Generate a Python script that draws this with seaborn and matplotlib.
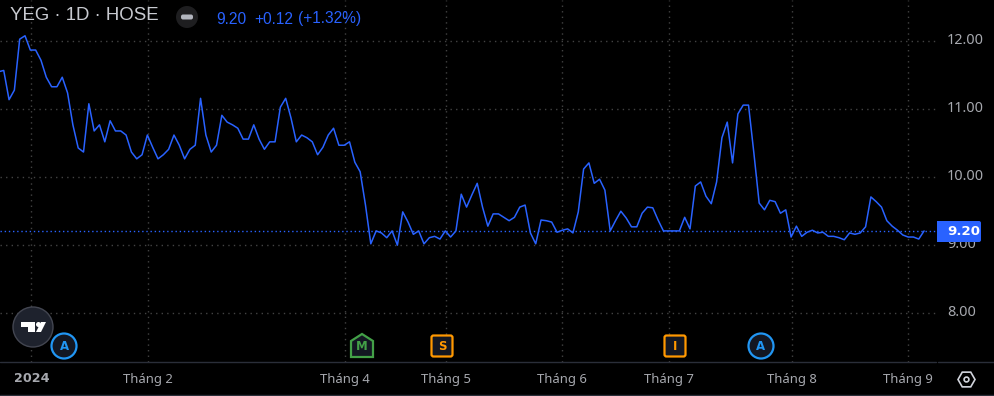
import numpy as np
import pandas as pd
import matplotlib
matplotlib.use("Agg")
import matplotlib.pyplot as plt
from matplotlib.patches import Circle, Polygon, FancyBboxPatch, Rectangle
import seaborn as sns

# daily closes
closes = [
    11.54, 11.56, 11.13, 11.27, 12.02, 12.07, 11.86, 11.86, 11.71, 11.46, 11.32, 11.32,
    11.46, 11.23, 10.76, 10.42, 10.36, 11.07, 10.67, 10.76, 10.51, 10.82, 10.67, 10.67,
    10.61, 10.36, 10.26, 10.32, 10.61, 10.43, 10.26, 10.32, 10.40, 10.61, 10.46, 10.26,
    10.40, 10.46, 11.15, 10.61, 10.36, 10.46, 10.90, 10.80, 10.76, 10.71, 10.55, 10.55,
    10.76, 10.55, 10.40, 10.51, 10.51, 11.02, 11.15, 10.86, 10.51, 10.61, 10.57, 10.51,
    10.32, 10.43, 10.61, 10.71, 10.46, 10.46, 10.51, 10.21, 10.07, 9.58, 9.01, 9.20,
    9.17, 9.10, 9.20, 8.99, 9.48, 9.33, 9.15, 9.20, 9.01, 9.10, 9.12, 9.08,
    9.20, 9.11, 9.20, 9.74, 9.55, 9.73, 9.90, 9.55, 9.27, 9.45, 9.45,
    9.40, 9.35, 9.40, 9.55, 9.58, 9.17, 9.01, 9.36, 9.35, 9.33, 9.18, 9.21, 9.23,
    9.17, 9.48, 10.11, 10.20, 9.90, 9.96, 9.80, 9.20, 9.35, 9.49, 9.39, 9.26, 9.26,
    9.46, 9.55, 9.54, 9.36, 9.20, 9.20, 9.20, 9.20, 9.40, 9.23, 9.86, 9.92, 9.71,
    9.60, 9.92, 10.57, 10.80, 10.20, 10.92, 11.05, 11.05, 10.35, 9.61, 9.51, 9.65, 9.63,
    9.46, 9.51, 9.11, 9.27, 9.12, 9.18, 9.21, 9.17, 9.18, 9.12, 9.12, 9.10, 9.07,
    9.17, 9.15, 9.17, 9.26, 9.70, 9.63, 9.55, 9.35, 9.27, 9.21, 9.14, 9.11, 9.11, 9.08, 9.20,
]
price_ticks = [8, 9, 10, 11, 12]
month_labels = ["2024", "Tháng 2", "Tháng 4", "Tháng 5", "Tháng 6", "Tháng 7", "Tháng 8", "Tháng 9"]
month_idx = [6.2, 28.1, 65.2, 84.1, 105.9, 126.1, 149.1, 171.0]
last_price = 9.20

LINE = "#2962ff"
GRID = "#434343"
TXT = "#a6a8ae"
FONT = "Liberation Sans"
AXFONT = "Noto Sans"
BOLDFONT = "DejaVu Sans"
STEP = 5.32   # px per bar
X0 = 0.3      # bar index at the left edge

sns.set_style("dark", {"axes.facecolor": "black", "figure.facecolor": "black"})

W, H = 994, 396
fig = plt.figure(figsize=(W / 100, H / 100), dpi=100)
ax = fig.add_axes([0, (H - 362) / H, 936 / W, 362 / H])

df = pd.DataFrame({"day": np.arange(len(closes)), "close": closes})
sns.lineplot(data=df, x="day", y="close", color=LINE, lw=1.1, ax=ax, zorder=3)
ax.set_xlim(X0, X0 + 936 / STEP)
ax.set_ylim(7.272, 12.596)
ax.set_xticks(month_idx)
ax.set_yticks(price_ticks)
ax.set_xlabel("")
ax.set_ylabel("")
ax.tick_params(length=0, labelbottom=False, labelleft=False)
ax.grid(True, color=GRID, lw=1, linestyle=(0, (1, 3)))
ax.axhline(last_price, color=LINE, lw=1, linestyle=(0, (1, 2)), zorder=2)
for s in ax.spines.values():
    s.set_visible(False)

# overlay in pixel coords for the TradingView chrome
ui = fig.add_axes([0, 0, 1, 1], facecolor="none")
ui.set_xlim(0, W)
ui.set_ylim(H, 0)
ui.axis("off")

ui.plot([0, 936], [362, 362], color="#2a2e39", lw=1)
ui.plot([938, W], [362, 362], color="#2a2e39", lw=1)
ui.plot([0, W], [395, 395], color="#2a2e39", lw=1)

# header
ui.text(10, 16, "YEG · 1D · HOSE", color="#c8cad0", fontsize=13.4, family=FONT, va="center")
ui.add_patch(Circle((187, 17), 11, fc="#1e1e20", ec="none"))
ui.add_patch(FancyBboxPatch((181, 14.5), 12, 5, boxstyle="round,pad=0,rounding_size=2", fc="#b2b5be", ec="none"))
ui.text(216, 19, "9.20", color=LINE, fontsize=11.2, family=FONT, va="center")
ui.text(254, 19, "+0.12", color=LINE, fontsize=11.2, family=FONT, va="center")
ui.text(298, 19, "(+1.32%)", color=LINE, fontsize=11.2, family=FONT, va="center")

# price scale
for p in price_ticks:
    y = 40.5 + (12 - p) * 68
    ui.text(947, y, f"{p:.2f}", color=TXT, fontsize=10.4, family=AXFONT, ha="left", va="center")
ui.add_patch(Rectangle((937, 221), 42, 21, fc=LINE, ec="none", zorder=4))
ui.add_patch(FancyBboxPatch((970, 221), 11, 21, boxstyle="round,pad=0,rounding_size=2", fc=LINE, ec="none", zorder=4))
ui.text(947, 231.5, f"{last_price:.2f}", color="white", fontsize=9.6, weight="bold", family=BOLDFONT,
        ha="left", va="center", zorder=5)

# month labels
for lab, i in zip(month_labels, month_idx):
    x = (i - X0) * STEP
    if lab == "2024":
        ui.text(x, 379, lab, color=TXT, fontsize=9.2, family=BOLDFONT, weight="bold", ha="center", va="center")
    else:
        ui.text(x, 379, lab, color=TXT, fontsize=9.4, family=AXFONT, ha="center", va="center")

# logo
ui.add_patch(Circle((33, 327), 20, fc="#1e222d", ec="#434651", lw=1, zorder=4))
ui.add_patch(Polygon([(21, 322), (35, 322), (35, 332), (28, 332), (28, 327), (21, 327)], fc="white", ec="none", zorder=5))
ui.add_patch(Circle((38.5, 324.5), 2.5, fc="white", ec="none", zorder=5))
ui.add_patch(Polygon([(36, 332), (41, 322), (46, 322), (41, 332)], fc="white", ec="none", zorder=5))

# event markers
BADGE = "#131722"
def circle_badge(x, y):
    ui.add_patch(Circle((x, y), 12.5, fc=BADGE, ec="#2196f3", lw=1.6, zorder=4))
    ui.text(x, y + 0.5, "A", color="#2196f3", fontsize=8.5, weight="bold", family=BOLDFONT, ha="center", va="center", zorder=5)

def square_badge(x, y, lab):
    ui.add_patch(FancyBboxPatch((x - 10.5, y - 10.5), 21, 21, boxstyle="round,pad=0,rounding_size=2",
                                fc=BADGE, ec="#ff9800", lw=1.6, zorder=4))
    ui.text(x, y + 0.5, lab, color="#ff9800", fontsize=8.5, weight="bold", family=BOLDFONT, ha="center", va="center", zorder=5)

circle_badge(64, 346)
circle_badge(761, 346)
square_badge(442, 346, "S")
square_badge(675, 346, "I")
ui.add_patch(Polygon([(362, 334), (373, 341), (373, 357), (351, 357), (351, 341)], fc=BADGE, ec="#43a047", lw=1.6, zorder=4))
ui.text(362, 347, "M", color="#43a047", fontsize=8.5, weight="bold", family=BOLDFONT, ha="center", va="center", zorder=5)

# settings hexagon
ang = np.deg2rad(np.arange(0, 360, 60))
ui.add_patch(Polygon(np.c_[966.5 + 8.5 * np.cos(ang), 379.5 + 8.5 * np.sin(ang)], fc="none", ec="#d1d4dc", lw=1.2))
ui.add_patch(Circle((966.5, 379.5), 2.4, fc="none", ec="#d1d4dc", lw=1.2))

fig.savefig("out.png", dpi=100, facecolor="black")
